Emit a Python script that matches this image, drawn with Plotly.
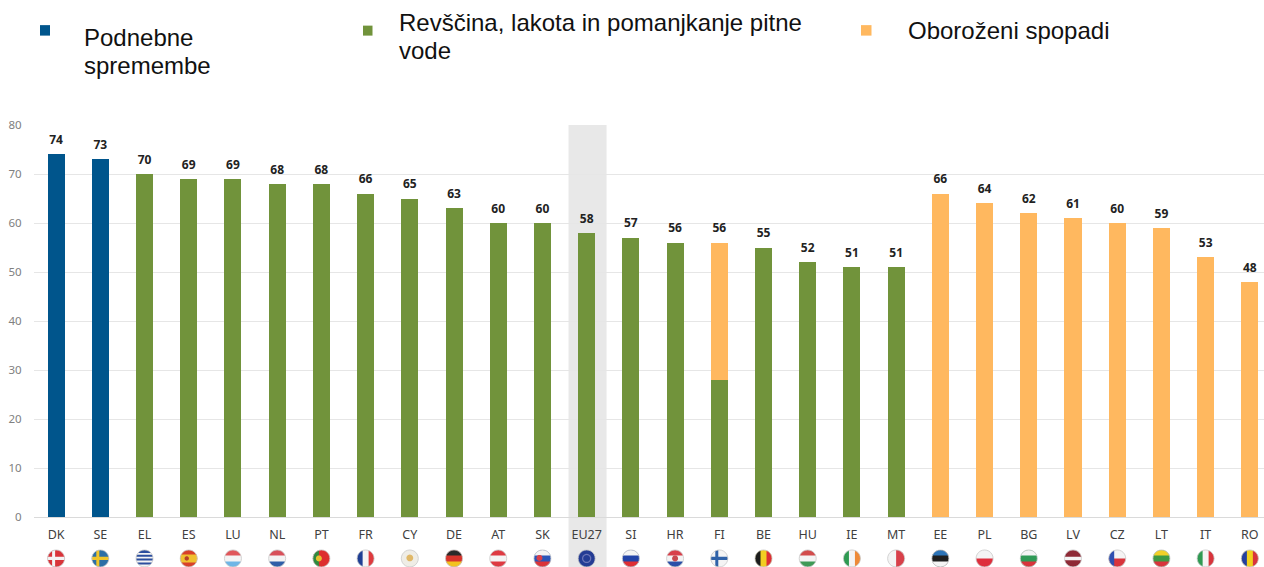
import numpy as np
import plotly.graph_objects as go

countries = ["DK","SE","EL","ES","LU","NL","PT","FR","CY","DE","AT","SK","EU27","SI","HR","FI","BE","HU","IE","MT","EE","PL","BG","LV","CZ","LT","IT","RO"]
climate = [74,73,0,0,0,0,0,0,0,0,0,0,0,0,0,0,0,0,0,0,0,0,0,0,0,0,0,0]
poverty = [0,0,70,69,69,68,68,66,65,63,60,60,58,57,56,28,55,52,51,51,0,0,0,0,0,0,0,0]
conflict = [0,0,0,0,0,0,0,0,0,0,0,0,0,0,0,28,0,0,0,0,66,64,62,61,60,59,53,48]
totals = [74,73,70,69,69,68,68,66,65,63,60,60,58,57,56,56,55,52,51,51,66,64,62,61,60,59,53,48]
series_names = ["Podnebne spremembe", "Revščina, lakota in pomanjkanje pitne vode", "Oboroženi spopadi"]

BLUE, GREEN, ORANGE = "#00558C", "#71933B", "#FFB85F"
W, H = 1264, 567
L, T, B = 34, 124.5, 50
R_FLAG = 8.5
FLAG_CY = 558.5

R, WH = "#D9343A", "#F4F4F4"
flags = {
 "DK": [("c", R), ("h", -1.6, 1.6, WH), ("v", -4, -1, WH)],
 "SE": [("c", "#2C6FA6"), ("h", -1.6, 1.6, "#F0C52A"), ("v", -4, -1, "#F0C52A")],
 "EL": [("c", WH), ("h", 5.5, 8.5, "#2B4E9E"), ("h", 1.8, 3.6, "#2B4E9E"), ("h", -2, 0, "#2B4E9E"), ("h", -6, -4, "#2B4E9E")],
 "ES": [("c", "#D8402A"), ("h", -4, 4, "#F0C030"), ("d", -2, 0, 2.2, "#B8402A")],
 "LU": [("c", WH), ("h", 3, 8.5, "#E0565A"), ("h", -8.5, -3, "#6FB6E6")],
 "NL": [("c", WH), ("h", 3, 8.5, "#D8505A"), ("h", -8.5, -3, "#2F5FA8")],
 "PT": [("c", "#DD2E2E"), ("v", -8.5, -2.5, "#2F8A3E"), ("d", -2.5, 0, 3, "#E8C030")],
 "FR": [("c", WH), ("v", -8.5, -3, "#1F3F94"), ("v", 3, 8.5, "#DE3A3E")],
 "CY": [("c", "#EFEDE6"), ("d", 0, 0.5, 3.4, "#E0B868")],
 "DE": [("c", "#D8342C"), ("h", 3, 8.5, "#2A2A2A"), ("h", -8.5, -3, "#F2C31E")],
 "AT": [("c", WH), ("h", 3, 8.5, "#DE3A42"), ("h", -8.5, -3, "#DE3A42")],
 "SK": [("c", "#2A55B8"), ("h", 3, 8.5, WH), ("h", -8.5, -3, "#DB3338"), ("d", -3, 0.5, 3, "#D8404A")],
 "EU27": [("c", "#243C94"), ("d", 0, 0, 4.6, "#6C76B8"), ("d", 0, 0, 3.4, "#243C94")],
 "SI": [("c", "#2244A8"), ("h", 3, 8.5, WH), ("h", -8.5, -3, "#DE2E34")],
 "HR": [("c", WH), ("h", 3, 8.5, "#D8404A"), ("h", -8.5, -3, "#2A4FA8"), ("d", 0, 0, 3, "#C84A50")],
 "FI": [("c", WH), ("h", -1.6, 1.6, "#2F62A8"), ("v", -4, -1, "#2F62A8")],
 "BE": [("c", "#F2CE22"), ("v", -8.5, -3, "#1C1C1C"), ("v", 3, 8.5, "#DD2E34")],
 "HU": [("c", WH), ("h", 3, 8.5, "#D24C4C"), ("h", -8.5, -3, "#3F9A56")],
 "IE": [("c", WH), ("v", -8.5, -3, "#2F9A52"), ("v", 3, 8.5, "#EE8A38")],
 "MT": [("c", WH), ("v", 0, 8.5, "#D8404A")],
 "EE": [("c", "#1F1F1F"), ("h", 3, 8.5, "#2C74B8"), ("h", -8.5, -3, WH)],
 "PL": [("c", WH), ("h", -8.5, 0, "#DE2E3C")],
 "BG": [("c", "#2F9A56"), ("h", 3, 8.5, WH), ("h", -8.5, -3, "#D8343C")],
 "LV": [("c", WH), ("h", 1.8, 8.5, "#8E2A36"), ("h", -8.5, -1.8, "#8E2A36")],
 "CZ": [("c", WH), ("h", -8.5, 0, "#D8343C"), ("v", -8.5, -3, "#2F4FB0")],
 "LT": [("c", "#3F9A44"), ("h", 3, 8.5, "#F2D028"), ("h", -8.5, -3, "#D8343C")],
 "IT": [("c", WH), ("v", -8.5, -3, "#2F9A52"), ("v", 3, 8.5, "#D8343C")],
 "RO": [("c", "#F2D01E"), ("v", -8.5, -3, "#24409E"), ("v", 3, 8.5, "#D8343C")],
}

def poly(pts):
    return "M" + " L".join(f"{x:.2f} {y:.2f}" for x, y in pts) + " Z"

def band(a, b, vertical, r=R_FLAG):
    ts = np.linspace(max(a, -r), min(b, r), 12)
    side = np.sqrt(np.maximum(r * r - ts * ts, 0))
    pts = list(zip(side, ts)) + list(zip(-side[::-1], ts[::-1]))
    return [(y, x) for x, y in pts] if vertical else pts

def disc(cx, cy, r):
    a = np.linspace(0, 2 * np.pi, 25)[:-1]
    return list(zip(cx + r * np.cos(a), cy + r * np.sin(a)))

def flag_shapes(i, spec):
    out = []
    anchor = (H - B - FLAG_CY) / (H - B - T)
    for item in spec:
        if item[0] == "c":
            pts, col = disc(0, 0, R_FLAG), item[1]
        elif item[0] == "h":
            pts, col = band(item[1], item[2], False), item[3]
        elif item[0] == "v":
            pts, col = band(item[1], item[2], True), item[3]
        else:
            pts, col = disc(item[1], item[2], item[3]), item[4]
        out.append(dict(type="path", xref="x", yref="paper", xsizemode="pixel", ysizemode="pixel",
                        xanchor=i, yanchor=anchor,
                        path=poly(pts), fillcolor=col, line_width=0, layer="above"))
    out.append(dict(type="path", xref="x", yref="paper", xsizemode="pixel", ysizemode="pixel",
                    xanchor=i, yanchor=anchor,
                    path=poly(disc(0, 0, R_FLAG)), fillcolor="rgba(0,0,0,0)",
                    line=dict(color="#C9C9C9", width=0.8), layer="above"))
    return out

fig = go.Figure()
for name, vals, col in zip(series_names, [climate, poverty, conflict], [BLUE, GREEN, ORANGE]):
    fig.add_bar(x=countries, y=vals, name=name, marker=dict(color=col, line_width=0), width=0.385)
fig.add_scatter(x=countries, y=totals, mode="markers+text", text=[str(t) for t in totals], textposition="top center",
                marker=dict(size=10, color="rgba(0,0,0,0)"),
                textfont=dict(family="Noto Sans", size=12, color="#222222", weight="bold"), cliponaxis=False)

shapes = [dict(type="rect", xref="x", yref="paper", x0=11.59, x1=12.45, y0=-B / (H - B - T), y1=1,
               fillcolor="#E8E8E8", line_width=0, layer="below")]
for i, c in enumerate(countries):
    shapes += flag_shapes(i, flags[c])
for (x0, x1, y0, y1, col) in [(40, 50, 24.5, 35, BLUE), (363, 372.5, 25, 35, GREEN), (861, 871.5, 24.5, 35, ORANGE)]:
    shapes.append(dict(type="rect", xref="paper", yref="paper",
                       x0=(x0 - L) / (W - L), x1=(x1 - L) / (W - L),
                       y0=(H - B - y1) / (H - B - T), y1=(H - B - y0) / (H - B - T),
                       fillcolor=col, line_width=0))

legend_lines = [("Podnebne", 84, 37), ("spremembe", 84, 65),
                ("Revščina, lakota in pomanjkanje pitne", 399, 22), ("vode", 399, 50),
                ("Oboroženi spopadi", 908, 30)]
annotations = [dict(text=t, xref="paper", yref="paper", x=(x - L) / (W - L), y=(H - B - y) / (H - B - T),
                    xanchor="left", yanchor="middle", showarrow=False, xshift=-2,
                    font=dict(family="Liberation Sans", size=24, color="#111111"))
               for t, x, y in legend_lines]

fig.update_layout(
    width=W, height=H, autosize=False, showlegend=False, barmode="stack", bargap=0.6,
    plot_bgcolor="white", paper_bgcolor="white",
    margin=dict(l=L, r=0, t=T, b=B, pad=0),
    shapes=shapes, annotations=annotations,
    font=dict(family="Noto Sans"),
    xaxis=dict(type="category", categoryorder="array", categoryarray=countries,
               range=[-0.5, 27.32], showgrid=False, showline=True, linecolor="#DADADA", linewidth=1,
               ticks="outside", ticklen=6, tickcolor="rgba(0,0,0,0)", tickangle=0,
               tickfont=dict(family="Noto Sans", size=12.5, color="#404040"), zeroline=False),
    yaxis=dict(range=[0, 80], dtick=10, showgrid=True, gridcolor="#E6E6E6", gridwidth=1, zeroline=False,
               showline=False, ticks="outside", ticklen=9, tickcolor="rgba(0,0,0,0)",
               tickfont=dict(family="Noto Sans", size=11.5, color="#808080")),
)

fig.write_html("out.html", config={"displayModeBar": False}, post_script="document.body.style.margin='0';")
